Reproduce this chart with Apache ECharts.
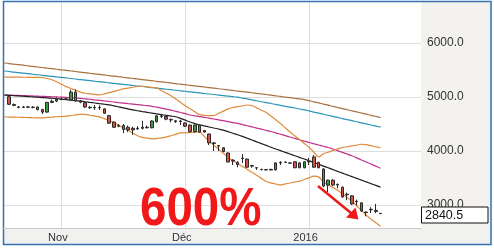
<!DOCTYPE html>
<html><head><meta charset="utf-8">
<script src="https://cdn.jsdelivr.net/npm/echarts@6/dist/echarts.min.js"></script>
<style>html,body{margin:0;padding:0;background:#fff}#c{width:494px;height:248px}</style>
</head><body><div id="c"></div>
<script>
// ---- data ----
// candles, one per session (category 1..79); category 0 carries only the indicator lines
const opens  = [5006,4860,4815,4808,4815,4812,4815,4770,4720,4900,4925,4960,4960,4945,5090,4925,4895,4810,4800,4805,
                4780,4655,4535,4470,4470,4440,4420,4410,4420,4440,4430,4540,4650,4640,4585,4560,4555,4520,4480,4360,
                4470,4380,4315,4150,4100,4060,3963,3830,3790,3870,3850,3730,3690,3660,3655,3650,3650,3780,3790,3780,
                3800,3780,3690,3800,3890,3790,3667,3370,3460,3380,3330,3200,3170,3070,3040,2870,2920,2880,2845];
const closes = [4865,4845,4808,4815,4812,4805,4765,4720,4900,4920,4960,4955,4965,5090,4925,4905,4815,4800,4808,4800,
                4700,4515,4440,4460,4400,4390,4390,4420,4440,4430,4555,4650,4640,4590,4575,4545,4545,4460,4360,4480,
                4350,4350,4150,4140,4090,3990,3796,3815,3750,3860,3700,3720,3685,3655,3650,3660,3780,3790,3795,3775,
                3690,3690,3800,3810,3700,3690,3350,3460,3370,3370,3150,3190,3020,3060,2890,2860,2910,2900,2840.5];
const lows   = [4850,4830,4790,4795,4795,4790,4755,4685,4710,4885,4905,4940,4950,4940,4915,4885,4800,4780,4760,4760,
                4685,4500,4425,4440,4330,4350,4300,4390,4400,4420,4420,4530,4610,4570,4530,4520,4480,4445,4340,4340,
                4340,4340,4110,4000,4000,3980,3790,3740,3700,3780,3690,3690,3650,3640,3640,3640,3640,3740,3780,3770,
                3680,3680,3680,3740,3690,3680,3330,3240,3350,3310,3130,3090,3000,2990,2870,2790,2850,2850,2830];
const highs  = [5020,4880,4835,4835,4835,4830,4825,4780,4910,4950,4995,4990,4980,5135,5140,4945,4905,4830,4850,4845,
                4795,4670,4545,4500,4500,4470,4450,4460,4560,4470,4570,4665,4670,4650,4600,4575,4575,4530,4490,4490,
                4480,4390,4320,4170,4110,4070,3975,3850,3810,3945,3860,3745,3700,3670,3665,3670,3790,3810,3805,3790,
                3810,3790,3810,3870,3925,3800,3680,3470,3480,3400,3340,3230,3180,3100,3050,2880,2960,3020,2850];

// indicator lines, categories 0..79
const ma200 = [5630,5619,5610,5598,5589,5577,5568,5556,5546,5535, 5525,5514,5503,5493,5482,5472,5460,5450,5440,5428,
               5418,5409,5397,5387,5376,5366,5354,5344,5334,5322, 5312,5303,5291,5281,5270,5260,5248,5238,5228,5216,
               5206,5197,5185,5175,5164,5153,5143,5132,5122,5110, 5100,5090,5079,5067,5056,5046,5033,5022,5011,4998,
               4987,4977,4964,4953,4933,4911,4891,4869,4849,4826, 4806,4786,4764,4744,4724,4702,4682,4660,4640,4619];
const ma100 = [5481,5472,5461,5452,5441,5432,5421,5412,5402,5391, 5382,5372,5363,5352,5343,5333,5322,5313,5303,5292,
               5283,5274,5263,5254,5243,5234,5224,5213,5204,5194, 5185,5174,5165,5155,5144,5135,5125,5114,5106,5095,
               5086,5076,5065,5056,5046,5035,5027,5016,5007,4997, 4980,4964,4946,4930,4912,4896,4880,4862,4846,4828,
               4812,4796,4778,4762,4742,4721,4702,4681,4662,4641, 4622,4601,4582,4561,4542,4521,4502,4481,4462,4442];
const ma50  = [5037,5035,5032,5030,5026,5023,5019,5016,5012,5008, 5004,5001,4998,4993,4987,4981,4974,4967,4958,4948,
               4938,4927,4917,4907,4897,4888,4878,4869,4860,4850, 4840,4828,4812,4795,4776,4756,4735,4713,4692,4667,
               4652,4638,4623,4608,4593,4578,4562,4544,4526,4511, 4489,4468,4446,4425,4404,4382,4361,4337,4311,4285,
               4259,4233,4208,4182,4157,4134,4111,4088,4065,4037, 4007,3975,3944,3911,3873,3834,3797,3758,3720,3681];
const ma20  = [5037,5031,5025,5020,5014,5008,5002,4996,4990,4985, 4977,4968,4959,4950,4940,4931,4922,4912,4900,4889,
               4877,4866,4854,4837,4818,4799,4779,4760,4745,4730, 4716,4701,4686,4673,4660,4647,4634,4605,4571,4537,
               4510,4484,4464,4445,4426,4407,4387,4358,4329,4301, 4270,4237,4204,4170,4137,4104,4070,4038,4007,3975,
               3944,3913,3882,3851,3819,3786,3754,3721,3689,3656, 3623,3591,3558,3526,3493,3460,3428,3395,3363,3330];
const bbUpper = [5370,5369,5368,5367,5366,5365,5364,5363,5361,5342, 5320,5282,5237,5192,5158,5125,5091,5069,5059,5049,
                 5038,5058,5080,5103,5126,5149,5165,5181,5196,5199, 5189,5178,5168,5121,5071,5022,4964,4901,4839,4781,
                 4726,4673,4661,4654,4655,4697,4738,4780,4805,4821, 4836,4852,4843,4799,4756,4711,4647,4580,4510,4430,
                 4352,4281,4211,4140,4069,3977,3889,3950,3977,4009, 4040,4064,4079,4094,4109,4125,4117,4098,4079,4060];
const bbLower = [4630,4629,4627,4625,4622,4619,4616,4613,4614,4621, 4627,4634,4640,4647,4657,4668,4679,4678,4662,4647,
                 4632,4599,4566,4529,4478,4428,4378,4331,4283,4252, 4239,4225,4231,4242,4257,4283,4309,4334,4338,4343,
                 4347,4352,4272,4185,4107,4032,3958,3883,3820,3768, 3715,3663,3607,3550,3493,3436,3409,3389,3372,3390,
                 3407,3425,3442,3472,3503,3534,3521,3426,3374,3322, 3271,3207,3139,3072,2987,2898,2810,2739,2672,2604];

const categories = Array.from({length: 88}, (_, i) => 'c' + i);
const tickIdx    = [12, 38, 64];
const tickLabels = ['Nov', 'Déc', '2016'];
const yTicks     = {min: 2000, max: 7000, interval: 1000};
const lastValue  = '2840.5';
const bigText    = '600%';

// ---- chart ----
const FONT = '"Liberation Sans", Arial, sans-serif';
const candleData = ['-'].concat(opens.map((o, i) => [o, closes[i], lows[i], highs[i]]));
const lineSeries = (name, data, color, w) => ({
  name, type: 'line', data, showSymbol: false, smooth: 0.3, z: 3,
  lineStyle: {color, width: w}, itemStyle: {color}, silent: true
});

const chart = echarts.init(document.getElementById('c'), null, {renderer: 'canvas'});
chart.setOption({
  animation: false,
  backgroundColor: '#ffffff',
  grid: {left: 1.86, top: -11, width: 419.14, height: 270, containLabel: false, outerBoundsMode: 'none'},
  xAxis: {
    type: 'category', data: categories, boundaryGap: true, offset: -31, z: 110,
    axisLine: {show: true, lineStyle: {color: '#c8c8c8', width: 1}},
    axisTick: {show: false}, splitLine: {show: false},
    axisLabel: {
      interval: (i) => tickIdx.includes(i),
      formatter: (v, i) => { const k = tickIdx.indexOf(i); return k >= 0 ? tickLabels[k] : ''; },
      color: (v, i) => (tickLabels[tickIdx.indexOf(i)] === '2016' ? '#a8a8a8' : '#333333'),
      fontFamily: FONT, fontSize: 11, margin: 4, padding: [0, 7, 0, 0]
    }
  },
  yAxis: {
    type: 'value', position: 'right', min: yTicks.min, max: yTicks.max, interval: yTicks.interval, scale: false,
    axisLine: {show: false}, axisTick: {show: false},
    splitLine: {show: true, lineStyle: {color: '#dedede', width: 1}},
    axisLabel: {color: '#333333', fontFamily: FONT, fontSize: 12, margin: 6, formatter: (v) => v.toFixed(1)}
  },
  series: [
    Object.assign(lineSeries('MA200', ma200, '#a8723f', 1.2), {
      markLine: {
        silent: true, z: 1, symbol: ['none', 'none'], label: {show: false},
        lineStyle: {color: '#dedede', width: 1, type: 'solid'},
        data: tickIdx.map((i) => ({xAxis: categories[i]}))
      }
    }),
    lineSeries('MA100', ma100, '#2b95b8', 1.2),
    lineSeries('MA50', ma50, '#c2308c', 1.2),
    lineSeries('BB+', bbUpper, '#e08a3c', 1.2),
    lineSeries('BB-', bbLower, '#e08a3c', 1.2),
    lineSeries('MA20', ma20, '#1e1e1e', 1.2),
    {
      name: 'Cours', type: 'candlestick', data: candleData, barWidth: 3, z: 4, silent: true,
      itemStyle: {color: '#3d9a3d', color0: '#d0524a', borderColor: '#2a2a2a', borderColor0: '#2a2a2a', borderWidth: 1}
    }
  ],
  graphic: [
    {type: 'rect', z: -10, silent: true, shape: {x: 421, y: 1, width: 70, height: 244}, style: {fill: '#f3f2ef'}},
    {type: 'rect', z: 100, silent: true, shape: {x: 3, y: 228.5, width: 488, height: 17}, style: {fill: '#f1f1f0'}},
    {type: 'rect', z: 100, silent: true, shape: {x: 0, y: 0, width: 3.5, height: 248}, style: {fill: '#ffffff'}},
    {type: 'rect', z: 100, silent: true, shape: {x: 0, y: 0, width: 494, height: 1.5}, style: {fill: '#ffffff'}},
    {type: 'rect', z: 100, silent: true, shape: {x: 0, y: 245, width: 494, height: 3}, style: {fill: '#ffffff'}},
    {type: 'rect', z: 100, silent: true, shape: {x: 491, y: 0, width: 3, height: 248}, style: {fill: '#ffffff'}},
    {type: 'rect', z: 105, silent: true, shape: {x: 3.5, y: 1.5, width: 487.5, height: 243},
      style: {fill: 'none', stroke: '#3572b0', lineWidth: 1.5}},
    {type: 'text', z: 90, silent: true, x: 140, y: 210, scaleX: 0.88,
      style: {text: bigText, font: 'bold 54px ' + FONT, fill: '#f01818', verticalAlign: 'middle', align: 'left'}},
    {type: 'line', z: 90, silent: true, shape: {x1: 318, y1: 186, x2: 351, y2: 213},
      style: {stroke: '#f01818', lineWidth: 2.5}},
    {type: 'polygon', z: 90, silent: true, shape: {points: [[358.5, 219.5], [346, 217.5], [355.5, 207.5]]},
      style: {fill: '#f01818'}},
    {type: 'rect', z: 120, silent: true, shape: {x: 421.5, y: 207, width: 66.5, height: 16},
      style: {fill: '#ffffff', stroke: '#111111', lineWidth: 1}},
    {type: 'text', z: 121, silent: true, x: 425, y: 215.5,
      style: {text: lastValue, font: '12.5px ' + FONT, fill: '#111111', verticalAlign: 'middle', align: 'left'}}
  ]
});
</script>
</body></html>
